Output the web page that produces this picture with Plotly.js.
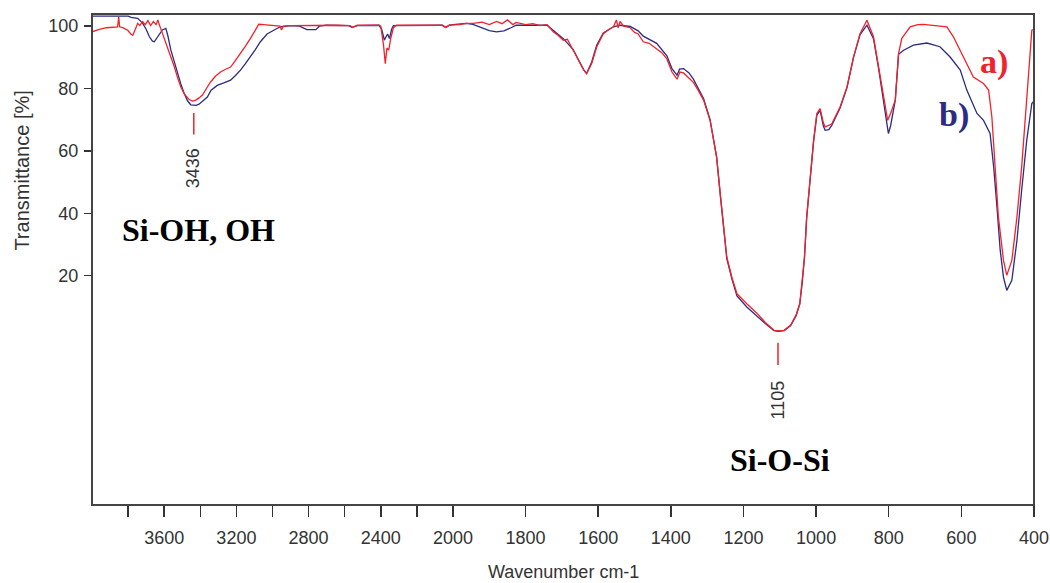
<!DOCTYPE html>
<html>
<head>
<meta charset="utf-8">
<script src="https://cdn.plot.ly/plotly-3.0.1.min.js"></script>
<style>html,body{margin:0;padding:0;background:#fff}#chart{width:1050px;height:583px}</style>
</head>
<body>
<div id="chart"></div>
<script>
// ---- data: FTIR spectra, sample a) (red) and sample b) (navy) ----
const waveA = [4000,3960,3920,3880,3858,3852,3847,3830,3802,3785,3774,3760,3747,3735,3720,3705,3690,3675,3660,3645,3635,3627,3609,3595,3581,3563,3544,3526,3508,3489,3462,3443,3425,3407,3388,3361,3343,3315,3288,3260,3232,3205,3177,3150,3122,3095,3076,3050,3000,2958,2950,2940,2900,2800,2640,2570,2555,2530,2410,2400,2385,2375,2366,2356,2345,2330,2314,2060,2040,2020,1980,1964,1945,1920,1900,1880,1865,1850,1835,1826,1800,1780,1760,1741,1724,1710,1696,1685,1669,1650,1640,1632,1618,1604,1586,1570,1558,1550,1545,1540,1530,1512,1500,1490,1476,1460,1439,1425,1411,1397,1383,1375,1365,1350,1338,1325,1310,1292,1274,1264,1255,1246,1232,1218,1191,1163,1140,1116,1105,1088,1070,1055,1045,1038,1032,1026,1017,1007,998,989,980,975,957,934,915,897,879,860,842,828,814,803,795,782,773,764,741,720,705,680,668,640,622,594,567,539,525,516,507,498,484,475,461,447,434,420,406,400];
const transA = [98.2,99.0,99.5,99.6,99.8,103,99.8,99.5,98.7,97.5,97.1,99,100.9,100.2,101.5,100.5,101.8,100.2,101.5,100.5,102,100.5,97.6,95.5,93.4,90,87,83.5,80.5,78.3,76.5,76,76.3,77,77.9,80.5,82.1,84,85.3,86.2,86.9,89,91.2,93.6,96.1,98.5,100.6,100.5,100.1,100,98.8,100,100.2,100.3,100.3,100.2,99.6,100.3,100.3,100,94,88,93,92.3,96,99.5,100.3,100.3,99.6,100.3,100.5,100.9,100.9,101.3,100.5,101.5,100.8,102,100.5,101.2,100.5,100.8,100.2,100.5,98.2,97,95.5,95.8,92.3,88,86,84.8,88,93.4,97.6,99,99.8,102,99.5,101.5,100,99.5,98,97.5,95,94.5,92.8,91.5,89.5,85.3,83,85.3,85,83.5,82,79.5,76.3,69.8,58.1,46.3,35.6,26,19.5,14.2,11,8,5,2.5,2.3,2.5,4.2,7.5,11,18,26,38.8,51.6,63.4,72,73.6,69,67.7,68.6,74.1,80.5,90.1,97.6,101.9,96.6,86.9,76.3,69.8,72,76.3,91.2,96.1,99.8,100.5,100.6,100.3,100,99.8,96.6,90.1,83.7,81.6,79.5,70.9,54.8,38.8,24.9,20.1,24.9,38.8,54.8,76.3,98.7,99];

const waveB = [4000,3800,3783,3747,3720,3700,3682,3665,3655,3630,3610,3591,3580,3563,3545,3526,3508,3489,3470,3453,3423,3407,3385,3361,3340,3306,3270,3232,3205,3177,3150,3122,3095,3067,3030,2993,2957,2900,2850,2810,2760,2740,2700,2580,2560,2530,2410,2395,2380,2372,2362,2352,2340,2330,2060,2040,2020,1964,1945,1920,1900,1880,1860,1840,1826,1741,1724,1696,1669,1650,1640,1632,1618,1604,1586,1558,1540,1512,1490,1476,1460,1439,1411,1397,1383,1376,1365,1350,1338,1310,1292,1274,1264,1255,1246,1232,1218,1191,1163,1140,1116,1105,1088,1070,1055,1045,1038,1032,1026,1017,1007,998,989,980,975,965,957,934,915,897,879,860,842,828,814,806,801,795,782,773,759,732,695,659,631,603,585,557,539,521,511,502,493,484,475,461,447,434,420,406,400];
const transB = [103.2,103.2,102.8,102.5,101,99,96.6,95.2,95,97,98.8,99.3,97,92.3,88.5,84.8,81.5,78.4,76,74.8,74.6,75,76,77.3,79.5,81,81.8,82.7,84.2,85.9,88,90.1,92.5,95,97.5,98.7,99.8,100.2,100,98.9,98.9,100,100.3,100.2,99.6,100.2,100.3,99,95.5,96.5,97.5,96,99,100.2,100.3,99.6,100.3,100.9,100.6,99.5,98.6,98.2,98.5,99.5,100.3,100.3,98.6,96,92.5,88,86,84.8,88.5,94,97.8,99.8,100.3,99.9,98.5,96.8,95.8,94.5,90.5,86.4,84.3,86.2,86.4,85,83,76.8,70,58,46,35,25.5,19,13.5,10,7,4.7,2.4,2.2,2.4,4,7.2,11,18,26,38.5,51.5,63,71.5,73,68,66.6,66.8,68.2,73.8,80.3,90,97.3,100.3,96,86.5,75.5,68,65.6,68,76.3,91,92.3,93.9,94.6,93.4,90.1,85.9,79.5,72,69.8,65.6,54.8,42,28.1,19.5,15.3,18.5,31.3,47.4,63.4,75.2,76];

const seriesNames = ["a)", "b)"];
const peakWn = [3436, 1105];
const peakLabels = ["3436", "1105"];
const bandLabels = ["Si-OH, OH", "Si-O-Si"];

// tick labels (two-scale wavenumber axis, scale change at 2000 cm-1)
const highTicks = [3800,3600,3400,3200,3000,2800,2600,2400,2200];
const highTickText = ["","3600","","3200","","2800","","2400",""];
const lowTicks = [2000,1800,1600,1400,1200,1000,800,600,400];
const lowTickText = lowTicks.map(String);
const yTicks = [20,40,60,80,100];

// ---- styling ----
const RED = "#f2222a", NAVY = "#2b2b85", INK = "#333333";
const sans = "Liberation Sans, Arial, sans-serif";
const serif = "Liberation Serif, Times New Roman, serif";
const split = 0.3832;

function trace(x, y, color, xa, name) {
  return {x: x, y: y, xaxis: xa, yaxis: "y", type: "scatter", mode: "lines",
          name: name, showlegend: false, hoverinfo: "skip",
          line: {color: color, width: 1.3}};
}

const data = [
  trace(waveB, transB, NAVY, "x", seriesNames[1]),
  trace(waveB, transB, NAVY, "x2", seriesNames[1]),
  trace(waveA, transA, RED, "x", seriesNames[0]),
  trace(waveA, transA, RED, "x2", seriesNames[0])
];

const axCommon = {showgrid: false, zeroline: false, showline: false,
  ticks: "outside", ticklen: 11, tickwidth: 1.5, tickcolor: INK, ticklabelstandoff: 5,
  tickfont: {family: sans, size: 18, color: INK}, tickmode: "array", fixedrange: true};

const layout = {
  width: 1050, height: 583,
  margin: {l: 92, r: 16, t: 14, b: 78},
  paper_bgcolor: "#ffffff", plot_bgcolor: "#ffffff",
  showlegend: false,
  xaxis: Object.assign({}, axCommon, {domain: [0, split], range: [4000, 2000], anchor: "y",
    tickvals: highTicks, ticktext: highTickText}),
  xaxis2: Object.assign({}, axCommon, {domain: [split, 1], range: [2000, 400], anchor: "y",
    tickvals: lowTicks, ticktext: lowTickText}),
  yaxis: {domain: [0, 1], range: [-53.5, 103.9], showgrid: false, zeroline: false, showline: false,
    ticks: "outside", ticklen: 7, tickwidth: 1.5, tickcolor: INK, tickmode: "array", tickvals: yTicks,
    ticklabelstandoff: 2,
    tickfont: {family: sans, size: 18, color: INK}, fixedrange: true},
  shapes: [
    {type: "rect", xref: "paper", yref: "paper", x0: 0, x1: 1, y0: 0, y1: 1,
     line: {color: "#444444", width: 2}},
    {type: "line", xref: "x", yref: "y", x0: peakWn[0], x1: peakWn[0], y0: 65.3, y1: 72.2,
     line: {color: RED, width: 1.5}},
    {type: "line", xref: "x2", yref: "y", x0: peakWn[1], x1: peakWn[1], y0: -8.6, y1: -1.5,
     line: {color: RED, width: 1.5}}
  ],
  annotations: [
    {xref: "paper", yref: "paper", x: 0.5, y: 0, yshift: -67, yanchor: "middle", showarrow: false,
     text: "Wavenumber cm-1", font: {family: sans, size: 18, color: INK}},
    {xref: "paper", yref: "y", x: 0, xshift: -70, y: 53.7, xanchor: "center", showarrow: false, textangle: -90,
     text: "Transmittance [%]", font: {family: sans, size: 20, color: INK}},
    {xref: "x", yref: "y", x: peakWn[0], y: 54.4, showarrow: false, textangle: -90,
     text: peakLabels[0], font: {family: sans, size: 18, color: INK}},
    {xref: "x2", yref: "y", x: peakWn[1], y: -19.7, showarrow: false, textangle: -90,
     text: peakLabels[1], font: {family: sans, size: 18, color: INK}},
    {xref: "x", yref: "y", x: 3408, y: 34.5, showarrow: false,
     text: "<b>" + bandLabels[0] + "</b>", font: {family: serif, size: 32, color: "#000"}},
    {xref: "x2", yref: "y", x: 1099, y: -39, showarrow: false,
     text: "<b>" + bandLabels[1] + "</b>", font: {family: serif, size: 32, color: "#000"}},
    {xref: "x2", yref: "y", x: 510, y: 88.4, showarrow: false,
     text: "<b>" + seriesNames[0] + "</b>", font: {family: serif, size: 34, color: RED}},
    {xref: "x2", yref: "y", x: 620, y: 71.4, showarrow: false,
     text: "<b>" + seriesNames[1] + "</b>", font: {family: serif, size: 34, color: NAVY}}
  ]
};

Plotly.newPlot("chart", data, layout, {staticPlot: true, displayModeBar: false});
</script>
</body>
</html>
